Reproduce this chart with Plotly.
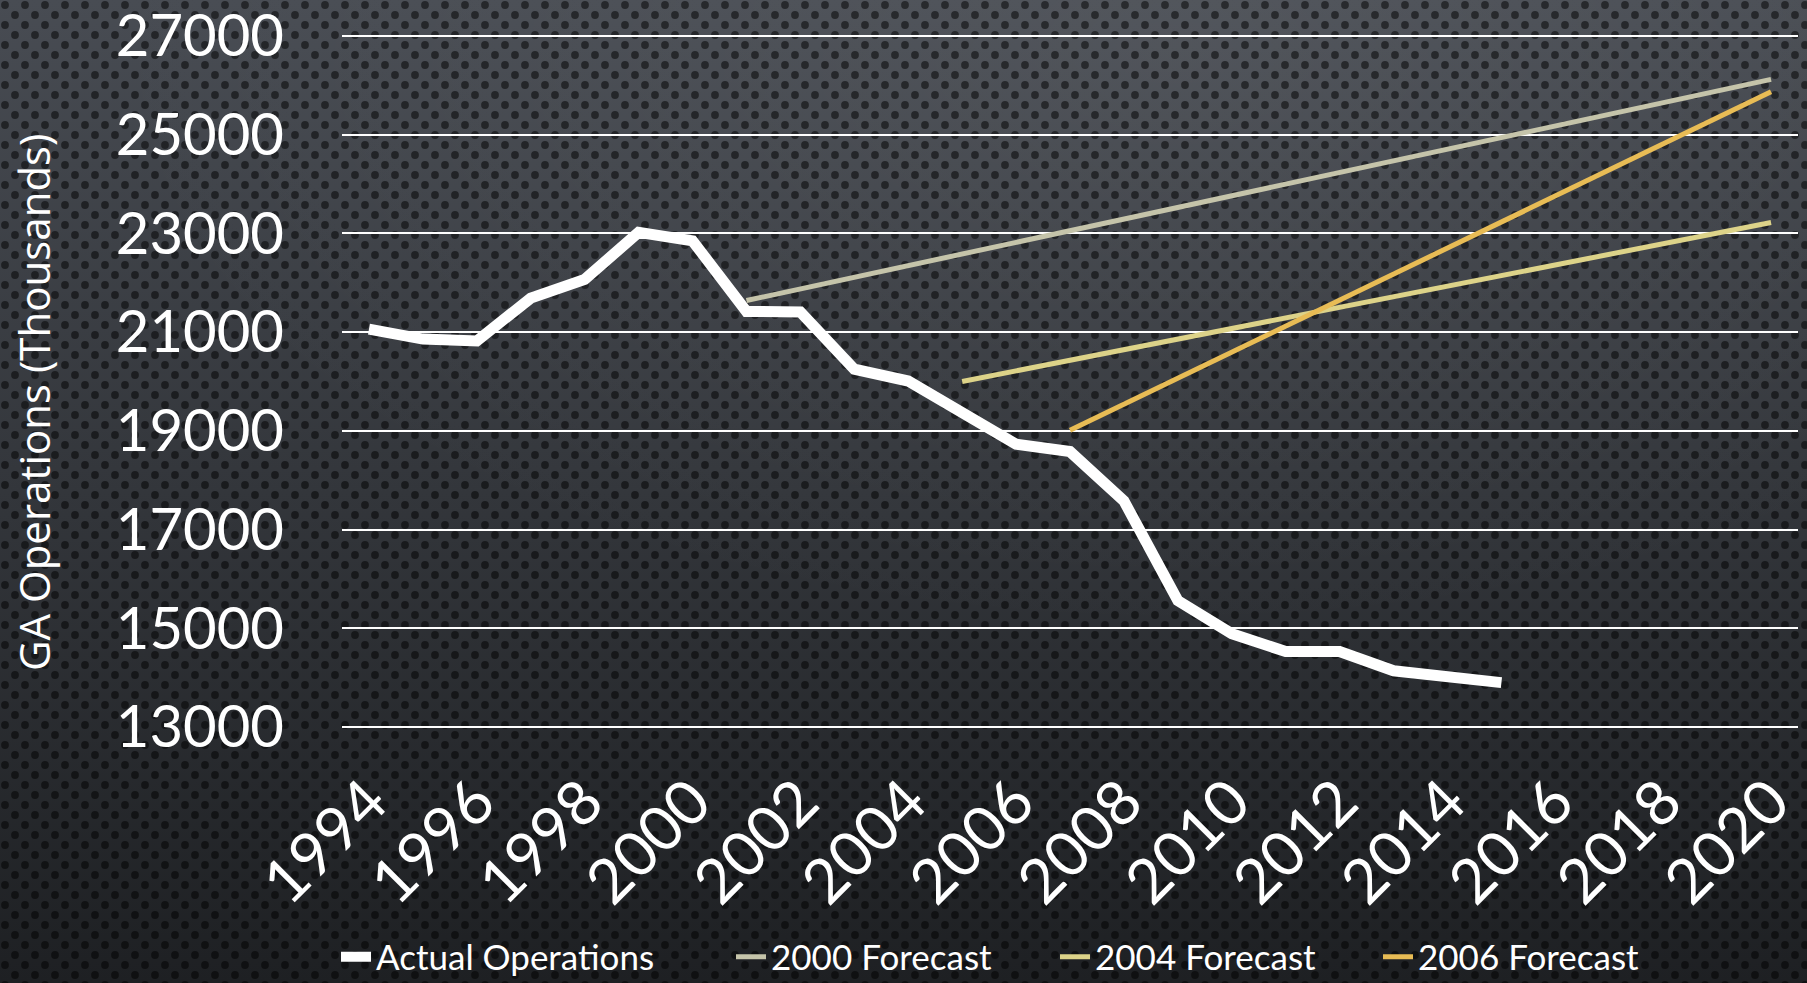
import base64
import plotly.graph_objects as go

# ---------------- data ----------------
actual_years = list(range(1994, 2016))
actual_ops = [21060, 20860, 20820, 21690, 22070, 23020, 22850, 21420, 21410, 20250,
              20010, 19370, 18730, 18580, 17580, 15560, 14890, 14530, 14530, 14140,
              14000, 13900]

f2000_years = [2001, 2020]
f2000_vals = [21640, 26120]

f2004_years = [2005, 2020]
f2004_vals = [20000, 23220]

f2006_years = [2007, 2020]
f2006_vals = [19010, 25870]

series_names = ["Actual Operations", "2000 Forecast", "2004 Forecast", "2006 Forecast"]
y_ticks = [13000, 15000, 17000, 19000, 21000, 23000, 25000, 27000]
x_ticks = list(range(1994, 2021, 2))
y_title = "GA Operations (Thousands)"

# ---------------- layout constants ----------------
W, H = 1807, 983
ML, MR, MT = 342, 9, 33
PLOT_BOTTOM = 730
MB = H - PLOT_BOTTOM
PW = W - ML - MR
PH = H - MT - MB

colors = ["#FFFFFF", "#C5C4AA", "#DDD389", "#E8BC55"]
widths = [11, 5, 5, 5]

# ---------------- background texture (perforated metal) ----------------
svg = f'''<svg xmlns="http://www.w3.org/2000/svg" width="{W}" height="{H}" viewBox="0 0 {W} {H}" preserveAspectRatio="none">
<defs>
<linearGradient id="g" x1="0" y1="0" x2="0" y2="1">
<stop offset="0" stop-color="#484c53"/>
<stop offset="0.5" stop-color="#33363b"/>
<stop offset="1" stop-color="#1e2023"/>
</linearGradient>
<radialGradient id="r" cx="0.65" cy="0.05" r="0.6">
<stop offset="0" stop-color="#ffffff" stop-opacity="0.06"/>
<stop offset="1" stop-color="#ffffff" stop-opacity="0"/>
</radialGradient>
<pattern id="p" width="20" height="20" patternUnits="userSpaceOnUse">
<circle cx="5" cy="5" r="3.9" fill="#000000" fill-opacity="0.5"/>
<circle cx="15" cy="15" r="3.9" fill="#000000" fill-opacity="0.5"/>
</pattern>
</defs>
<rect x="0" y="0" width="{W}" height="{H}" fill="url(#g)"/>
<rect x="0" y="0" width="{W}" height="{H}" fill="url(#r)"/>
<rect x="0" y="0" width="{W}" height="{H}" fill="url(#p)"/>
</svg>'''
bg_src = "data:image/svg+xml;base64," + base64.b64encode(svg.encode()).decode()

fig = go.Figure()

all_x = [actual_years, f2000_years, f2004_years, f2006_years]
all_y = [actual_ops, f2000_vals, f2004_vals, f2006_vals]
legend_ids = ["legend", "legend2", "legend3", "legend4"]

for i in range(4):
    fig.add_trace(go.Scatter(
        x=all_x[i], y=all_y[i], mode="lines", name=series_names[i],
        line=dict(color=colors[i], width=widths[i]),
        legend=legend_ids[i], hoverinfo="x+y+name",
    ))

legend_x_px = [346, 741, 1065, 1388]
leg_y = -(957 - PLOT_BOTTOM) / PH
legend_common = dict(orientation="h", yanchor="middle", xanchor="left", y=leg_y,
                     font=dict(family="Lato", size=35, color="#FFFFFF"),
                     bgcolor="rgba(0,0,0,0)", borderwidth=0, itemwidth=30)

layout_legends = {}
for i, lid in enumerate(legend_ids):
    d = dict(legend_common)
    d["x"] = (legend_x_px[i] - 10 - ML) / PW
    layout_legends[lid] = d

fig.update_layout(
    width=W, height=H,
    margin=dict(l=ML, r=MR, t=MT, b=MB, pad=0, autoexpand=False),
    paper_bgcolor="#1e2023",
    plot_bgcolor="rgba(0,0,0,0)",
    showlegend=True,
    images=[dict(source=bg_src, xref="paper", yref="paper",
                 x=-ML / PW, y=1 + MT / PH, sizex=W / PW, sizey=H / PH,
                 xanchor="left", yanchor="top", sizing="stretch", layer="below")],
    xaxis=dict(range=[1993.5, 2020.5], tickmode="array", tickvals=x_ticks,
               ticktext=[str(v) for v in x_ticks], tickangle=-45,
               tickfont=dict(family="Lato", size=62, color="#FFFFFF"),
               showgrid=False, zeroline=False, showline=False, ticks="",
               ticklabelstandoff=22, automargin=False, ticklabeloverflow="allow",
               fixedrange=True),
    yaxis=dict(range=[12940, 27060], tickmode="array", tickvals=y_ticks,
               ticktext=[str(v) for v in y_ticks],
               tickfont=dict(family="Lato", size=58, color="#FFFFFF"),
               showgrid=True, gridcolor="#FFFFFF", gridwidth=2,
               zeroline=False, showline=False, ticks="",
               ticklabelstandoff=57, automargin=False, ticklabeloverflow="allow",
               fixedrange=True),
    annotations=[dict(text=y_title, xref="paper", yref="paper",
                      x=(33 - ML) / PW, y=1 - (402 - MT) / PH,
                      xanchor="center", yanchor="middle", textangle=-90,
                      showarrow=False,
                      font=dict(family="Open Sans", size=42, color="#FFFFFF"))],
    **layout_legends,
)

fig.write_html("out.html", config={"displayModeBar": False},
               post_script="document.documentElement.style.background='#1e2023';"
                           "document.body.style.background='#1e2023';"
                           "document.body.style.margin='0';document.body.style.overflow='hidden';")
